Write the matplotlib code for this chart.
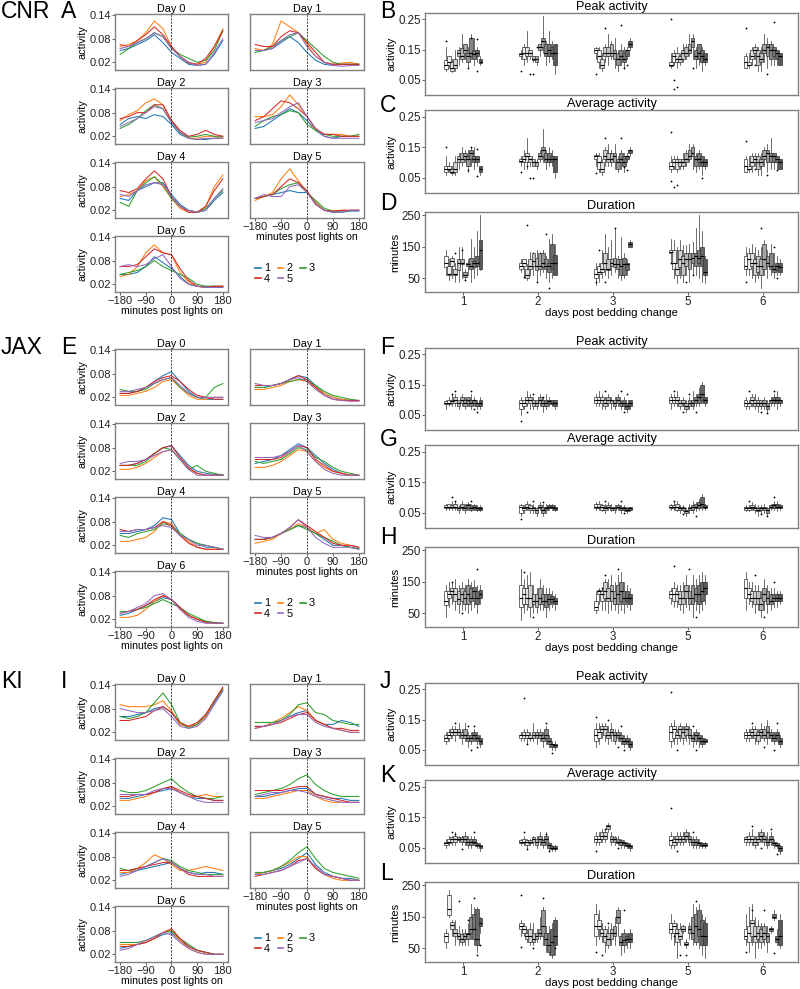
import matplotlib
matplotlib.use('Agg')
import matplotlib.pyplot as plt
from matplotlib.lines import Line2D
import numpy as np

plt.rcParams['font.family'] = ['Liberation Sans', 'DejaVu Sans']

W, H = 800, 989

# ---- activity profiles: minutes post lights on, one list per cage group (1..5)
MINUTES = [-180, -150, -120, -90, -60, -30, 0, 30, 60, 90, 120, 150, 180]
GROUPS = ['1', '2', '3', '4', '5']
GROUP_COLORS = ['#1f77b4', '#ff7f0e', '#2ca02c', '#d62728', '#9467bd']

CNR_D0 = [[.05, .055, .065, .075, .09, .07, .045, .03, .015, .012, .015, .04, .075],
          [.06, .065, .075, .095, .125, .105, .06, .035, .02, .015, .02, .06, .105],
          [.04, .055, .07, .08, .095, .085, .055, .04, .03, .02, .025, .05, .10],
          [.065, .06, .075, .09, .11, .09, .06, .035, .018, .015, .03, .06, .10],
          [.055, .06, .07, .08, .095, .085, .055, .035, .02, .012, .015, .045, .08]]
CNR_D1 = [[.05, .05, .055, .07, .085, .07, .045, .025, .015, .012, .015, .015, .015],
          [.055, .05, .065, .125, .11, .095, .065, .035, .02, .015, .018, .02, .015],
          [.045, .05, .06, .075, .085, .095, .075, .055, .035, .02, .015, .015, .015],
          [.065, .06, .06, .085, .10, .095, .07, .045, .02, .015, .015, .015, .015],
          [.05, .05, .055, .075, .09, .095, .06, .035, .02, .012, .01, .012, .012]]
CNR_D2 = [[.05, .065, .07, .065, .075, .07, .05, .025, .015, .012, .012, .015, .015],
          [.06, .075, .085, .105, .115, .10, .06, .03, .015, .015, .02, .02, .015],
          [.04, .05, .065, .085, .10, .09, .055, .03, .018, .02, .025, .02, .02],
          [.065, .07, .08, .08, .10, .10, .06, .035, .02, .025, .035, .025, .02],
          [.045, .055, .065, .08, .095, .09, .055, .03, .015, .012, .015, .015, .015]]
CNR_D3 = [[.04, .045, .06, .075, .09, .08, .06, .035, .02, .015, .02, .02, .02],
          [.07, .07, .075, .095, .125, .10, .07, .035, .025, .025, .025, .02, .02],
          [.045, .06, .07, .075, .085, .08, .05, .035, .025, .02, .02, .02, .025],
          [.06, .07, .09, .11, .105, .09, .07, .04, .025, .025, .02, .02, .02],
          [.055, .06, .065, .08, .095, .105, .07, .04, .02, .015, .015, .015, .015]]
CNR_D4 = [[.05, .045, .07, .08, .09, .09, .06, .035, .02, .015, .02, .045, .065],
          [.055, .06, .07, .095, .105, .08, .05, .025, .015, .015, .03, .08, .11],
          [.04, .03, .07, .09, .105, .085, .05, .03, .02, .015, .025, .05, .07],
          [.07, .065, .075, .10, .12, .10, .055, .03, .015, .015, .03, .07, .10],
          [.06, .055, .07, .085, .09, .085, .055, .03, .02, .015, .02, .05, .075]]
CNR_D5 = [[.05, .055, .06, .065, .07, .065, .065, .04, .02, .015, .015, .018, .018],
          [.045, .055, .065, .10, .125, .095, .065, .04, .02, .018, .02, .02, .02],
          [.05, .055, .06, .075, .085, .09, .065, .045, .025, .018, .018, .02, .02],
          [.05, .055, .06, .08, .10, .09, .07, .035, .02, .018, .02, .02, .02],
          [.05, .06, .055, .055, .08, .085, .065, .035, .02, .015, .015, .02, .02]]
CNR_D6 = [[.045, .045, .05, .065, .09, .075, .06, .04, .02, .015, .015, .015, .015],
          [.04, .045, .065, .10, .12, .10, .095, .05, .025, .015, .012, .015, .015],
          [.045, .05, .055, .065, .08, .065, .055, .045, .035, .02, .015, .015, .012],
          [.065, .065, .07, .09, .11, .10, .095, .06, .03, .015, .012, .015, .015],
          [.065, .07, .065, .07, .085, .095, .065, .035, .02, .015, .012, .012, .012]]

JAX_D0 = [[.03, .03, .035, .045, .06, .075, .085, .06, .035, .02, .015, .015, .015],
          [.025, .025, .03, .035, .045, .06, .065, .045, .025, .015, .015, .02, .02],
          [.04, .035, .035, .04, .055, .065, .07, .045, .03, .02, .02, .045, .055],
          [.03, .03, .035, .045, .06, .07, .075, .06, .04, .025, .02, .015, .015],
          [.035, .035, .04, .045, .055, .065, .07, .05, .03, .02, .02, .02, .02]]
JAX_D1 = [[.045, .045, .05, .055, .065, .075, .07, .05, .03, .02, .015, .012, .012],
          [.04, .04, .045, .05, .06, .065, .06, .045, .03, .02, .015, .012, .012],
          [.045, .045, .05, .055, .06, .065, .065, .05, .035, .025, .02, .015, .012],
          [.05, .05, .05, .055, .065, .075, .065, .045, .025, .015, .012, .012, .012],
          [.055, .05, .05, .055, .065, .07, .06, .04, .025, .015, .012, .01, .01]]
JAX_D2 = [[.035, .035, .04, .05, .065, .08, .085, .06, .035, .02, .015, .012, .012],
          [.025, .025, .03, .04, .055, .07, .075, .05, .025, .015, .01, .01, .01],
          [.035, .035, .035, .045, .065, .08, .075, .05, .025, .035, .02, .015, .01],
          [.035, .035, .04, .05, .065, .08, .085, .055, .03, .015, .01, .01, .01],
          [.04, .045, .045, .05, .06, .07, .075, .05, .025, .01, .01, .01, .01]]
JAX_D3 = [[.04, .045, .05, .06, .075, .09, .08, .06, .04, .025, .015, .01, .01],
          [.03, .03, .035, .045, .06, .075, .07, .045, .03, .02, .015, .01, .01],
          [.045, .04, .045, .05, .065, .08, .075, .055, .045, .03, .02, .015, .01],
          [.05, .05, .05, .055, .07, .085, .08, .05, .035, .02, .015, .01, .01],
          [.055, .055, .055, .06, .07, .085, .07, .045, .025, .015, .01, .01, .01]]
JAX_D4 = [[.05, .05, .055, .06, .07, .09, .085, .05, .035, .025, .015, .015, .01],
          [.03, .03, .035, .04, .055, .08, .075, .045, .03, .015, .01, .01, .01],
          [.045, .04, .05, .055, .06, .075, .07, .05, .035, .025, .02, .015, .01],
          [.06, .055, .06, .06, .065, .08, .07, .045, .025, .015, .01, .01, .01],
          [.055, .055, .06, .06, .065, .07, .065, .045, .035, .02, .02, .015, .01]]
JAX_D5 = [[.035, .035, .04, .05, .06, .07, .065, .05, .035, .02, .02, .015, .012],
          [.025, .03, .035, .05, .06, .075, .065, .05, .06, .035, .025, .02, .015],
          [.035, .035, .04, .05, .06, .07, .06, .05, .04, .03, .02, .015, .01],
          [.035, .035, .04, .05, .065, .085, .07, .055, .04, .025, .02, .02, .015],
          [.045, .04, .04, .05, .065, .085, .065, .04, .025, .015, .015, .015, .01]]
JAX_D6 = [[.03, .035, .045, .055, .065, .075, .07, .05, .03, .02, .015, .01, .01],
          [.025, .025, .03, .045, .065, .08, .07, .045, .03, .02, .015, .01, .01],
          [.04, .04, .045, .05, .06, .07, .06, .05, .035, .025, .015, .012, .01],
          [.035, .04, .045, .055, .07, .08, .07, .05, .03, .02, .012, .01, .01],
          [.035, .04, .05, .06, .08, .085, .07, .045, .025, .015, .01, .01, .01]]

KI_D0 = [[.06, .06, .065, .07, .08, .085, .07, .04, .035, .04, .06, .095, .125],
         [.09, .085, .085, .085, .09, .10, .075, .04, .035, .04, .06, .10, .13],
         [.06, .055, .06, .07, .095, .12, .09, .045, .03, .04, .065, .10, .13],
         [.05, .05, .055, .06, .075, .085, .07, .045, .035, .045, .065, .10, .135],
         [.08, .075, .07, .07, .075, .08, .06, .035, .03, .035, .055, .09, .125]]
KI_D1 = [[.035, .035, .04, .05, .06, .07, .075, .05, .04, .04, .05, .045, .035],
         [.03, .035, .045, .055, .07, .085, .075, .05, .04, .03, .025, .02, .02],
         [.045, .045, .045, .05, .065, .09, .095, .07, .065, .05, .045, .04, .04],
         [.035, .035, .04, .045, .055, .065, .07, .05, .04, .03, .03, .025, .025],
         [.03, .035, .04, .05, .06, .065, .065, .045, .035, .03, .025, .02, .02]]
KI_D2 = [[.04, .04, .045, .05, .055, .06, .065, .055, .045, .04, .04, .035, .035],
         [.035, .035, .04, .045, .055, .065, .07, .055, .045, .045, .05, .045, .045],
         [.06, .055, .055, .06, .07, .08, .09, .07, .055, .045, .04, .04, .045],
         [.045, .045, .05, .05, .055, .065, .07, .06, .05, .045, .04, .035, .035],
         [.05, .05, .05, .05, .06, .065, .065, .055, .045, .035, .03, .03, .03]]
KI_D3 = [[.045, .045, .05, .055, .06, .065, .065, .05, .045, .04, .04, .035, .035],
         [.04, .04, .045, .05, .055, .06, .06, .045, .035, .03, .03, .03, .03],
         [.05, .055, .06, .065, .075, .09, .10, .075, .06, .05, .045, .045, .045],
         [.06, .06, .06, .06, .065, .07, .07, .05, .045, .04, .035, .03, .03],
         [.045, .05, .055, .055, .06, .06, .055, .045, .04, .035, .03, .03, .03]]
KI_D4 = [[.035, .04, .045, .05, .055, .06, .065, .05, .04, .035, .04, .04, .035],
         [.04, .04, .05, .065, .085, .075, .06, .045, .045, .05, .055, .05, .045],
         [.05, .045, .05, .055, .065, .075, .07, .055, .045, .04, .035, .035, .035],
         [.045, .045, .05, .055, .06, .065, .065, .05, .035, .03, .03, .03, .03],
         [.03, .035, .045, .055, .065, .075, .065, .05, .04, .035, .035, .03, .03]]
KI_D5 = [[.035, .04, .045, .05, .06, .075, .09, .06, .04, .03, .025, .025, .02],
         [.035, .04, .045, .055, .065, .08, .08, .05, .035, .025, .02, .02, .02],
         [.04, .04, .045, .055, .07, .09, .105, .075, .05, .04, .035, .03, .025],
         [.03, .035, .04, .045, .055, .07, .075, .05, .035, .03, .025, .02, .02],
         [.035, .035, .04, .045, .055, .065, .075, .055, .035, .03, .025, .02, .02]]
KI_D6 = [[.035, .04, .045, .05, .06, .07, .075, .055, .04, .03, .025, .02, .02],
         [.045, .045, .045, .05, .06, .075, .08, .055, .035, .025, .02, .02, .02],
         [.05, .05, .05, .055, .065, .075, .08, .06, .045, .03, .025, .02, .02],
         [.04, .04, .045, .05, .06, .075, .085, .06, .04, .03, .025, .02, .02],
         [.03, .035, .045, .055, .065, .075, .07, .05, .035, .025, .02, .02, .02]]

# ---- box summaries per day (1,2,3,5,6): 12 boxes of (low, q1, median, q3, high)
DAY_LABELS = ['1', '2', '3', '5', '6']

CNR_PEAK = [
    [(.08, .085, .10, .115, .16), (.09, .10, .11, .13, .13), (.075, .08, .09, .11, .12), (.08, .09, .10, .12, .15),
     (.10, .13, .14, .15, .16), (.11, .12, .13, .155, .20), (.12, .14, .15, .17, .17), (.09, .11, .13, .14, .16),
     (.12, .13, .14, .19, .20), (.10, .12, .135, .15, .19), (.11, .13, .14, .15, .16), (.10, .105, .11, .12, .13)],
    [(.12, .13, .135, .14, .15), (.10, .12, .14, .16, .17), (.11, .13, .14, .16, .21), (.12, .13, .14, .15, .15),
     (.11, .115, .12, .13, .13), (.10, .11, .12, .13, .13), (.13, .15, .16, .17, .17), (.14, .16, .18, .19, .26),
     (.10, .13, .14, .17, .18), (.11, .13, .15, .17, .21), (.12, .13, .14, .16, .18), (.07, .10, .14, .17, .17)],
    [(.12, .14, .15, .155, .16), (.09, .11, .13, .15, .16), (.08, .09, .10, .12, .14), (.11, .13, .14, .16, .17),
     (.10, .13, .14, .16, .20), (.12, .13, .14, .17, .18), (.09, .12, .14, .15, .19), (.08, .10, .12, .14, .15),
     (.10, .12, .13, .15, .17), (.09, .11, .12, .14, .16), (.12, .13, .15, .15, .16), (.15, .16, .17, .18, .19)],
    [(.09, .095, .10, .11, .14), (.10, .11, .13, .14, .15), (.09, .11, .12, .14, .16), (.10, .11, .12, .13, .14),
     (.11, .12, .14, .15, .17), (.12, .13, .14, .16, .17), (.13, .14, .15, .17, .20), (.12, .16, .18, .19, .20),
     (.09, .12, .13, .15, .16), (.10, .12, .14, .17, .17), (.08, .11, .13, .15, .16), (.10, .11, .12, .14, .14)],
    [(.09, .09, .11, .13, .14), (.09, .10, .10, .11, .14), (.10, .12, .13, .15, .16), (.12, .14, .15, .16, .17),
     (.08, .10, .13, .15, .16), (.08, .11, .12, .14, .16), (.11, .14, .15, .17, .20), (.09, .13, .16, .17, .19),
     (.10, .12, .15, .17, .18), (.10, .13, .15, .16, .16), (.10, .12, .14, .15, .15), (.10, .10, .13, .14, .14)]]
CNR_PEAK_OUT = [[(1, .18), (9, .19), (11, .185), (11, .08), (8, .09)],
                [(1, .08), (4, .07), (5, .07), (6, .16)],
                [(1, .07), (4, .22), (9, .23), (10, .09), (11, .10)],
                [(1, .25), (2, .05), (2, .02), (3, .025), (8, .09)],
                [(1, .22), (4, .10), (8, .07), (10, .24)]]

CNR_AVG = [
    [(.06, .07, .08, .09, .12), (.07, .075, .08, .09, .10), (.06, .065, .07, .08, .09), (.06, .07, .08, .10, .12),
     (.08, .10, .11, .12, .13), (.09, .10, .11, .13, .15), (.10, .11, .12, .13, .14), (.07, .09, .11, .12, .14),
     (.09, .11, .13, .14, .15), (.08, .10, .11, .12, .15), (.09, .10, .11, .12, .12), (.06, .07, .08, .09, .09)],
    [(.09, .10, .105, .11, .12), (.08, .10, .11, .12, .14), (.08, .10, .12, .13, .18), (.09, .10, .11, .12, .12),
     (.09, .09, .10, .11, .11), (.08, .09, .10, .10, .11), (.10, .11, .12, .13, .14), (.10, .12, .14, .15, .21),
     (.08, .10, .11, .13, .14), (.09, .10, .11, .13, .15), (.09, .10, .11, .12, .14), (.05, .07, .11, .12, .12)],
    [(.09, .11, .12, .125, .13), (.07, .08, .10, .12, .13), (.06, .07, .08, .10, .11), (.09, .11, .12, .14, .15),
     (.09, .10, .11, .13, .16), (.09, .10, .11, .13, .14), (.08, .10, .12, .13, .16), (.07, .08, .10, .11, .12),
     (.08, .10, .11, .13, .14), (.07, .09, .10, .12, .13), (.10, .11, .12, .12, .13), (.12, .13, .14, .14, .15)],
    [(.07, .08, .09, .10, .12), (.08, .09, .10, .11, .12), (.07, .08, .10, .11, .12), (.08, .09, .10, .11, .11),
     (.08, .09, .10, .11, .13), (.09, .10, .11, .13, .14), (.10, .11, .12, .14, .16), (.08, .12, .13, .15, .16),
     (.07, .09, .11, .12, .13), (.08, .10, .11, .13, .14), (.06, .09, .10, .12, .12), (.08, .09, .10, .11, .11)],
    [(.07, .07, .09, .11, .12), (.07, .08, .08, .09, .12), (.07, .09, .10, .12, .13), (.09, .10, .11, .12, .13),
     (.06, .08, .10, .12, .13), (.06, .09, .10, .11, .13), (.09, .11, .12, .14, .15), (.07, .10, .13, .14, .16),
     (.08, .10, .12, .13, .18), (.08, .10, .12, .13, .13), (.08, .10, .11, .12, .12), (.08, .08, .10, .11, .11)]]
CNR_AVG_OUT = [[(1, .15), (9, .15), (11, .145), (11, .055), (8, .075)],
               [(1, .07), (4, .05), (5, .05), (3, .09)],
               [(1, .065), (4, .18), (9, .18), (10, .085), (11, .075)],
               [(1, .20), (1, .04), (2, .02), (3, .025), (11, .05)],
               [(1, .17), (4, .08), (8, .06), (11, .075)]]

CNR_DUR = [
    [(60, 85, 100, 120, 140), (45, 60, 65, 90, 110), (50, 90, 105, 115, 120), (40, 60, 65, 80, 100),
     (40, 75, 100, 110, 150), (50, 95, 100, 110, 150), (45, 55, 60, 70, 80), (60, 90, 95, 100, 110),
     (40, 80, 90, 115, 175), (50, 85, 100, 105, 150), (60, 90, 100, 120, 200), (75, 80, 140, 170, 250)],
    [(70, 80, 90, 100, 110), (55, 90, 100, 110, 110), (45, 50, 60, 80, 95), (60, 80, 90, 110, 135),
     (60, 90, 105, 130, 135), (40, 75, 90, 115, 140), (60, 80, 90, 130, 135), (70, 85, 100, 130, 140),
     (50, 80, 90, 110, 120), (40, 70, 90, 100, 175), (50, 80, 100, 160, 190), (60, 60, 100, 125, 160)],
    [(30, 50, 65, 80, 100), (40, 65, 70, 90, 100), (50, 70, 80, 100, 140), (60, 80, 100, 130, 190),
     (50, 75, 80, 110, 150), (60, 90, 100, 110, 170), (70, 85, 95, 115, 210), (50, 80, 95, 110, 120),
     (45, 60, 90, 110, 180), (50, 60, 95, 115, 130), (60, 75, 95, 100, 110), (150, 150, 160, 165, 170)],
    [(100, 130, 135, 140, 175), (50, 80, 100, 140, 170), (35, 60, 80, 100, 150), (50, 85, 110, 140, 170),
     (40, 60, 100, 120, 155), (60, 90, 110, 130, 155), (40, 80, 110, 130, 160), (60, 100, 115, 130, 165),
     (60, 90, 120, 130, 210), (50, 100, 115, 140, 250), (40, 90, 120, 150, 200), (35, 60, 70, 110, 120)],
    [(60, 80, 90, 120, 150), (60, 80, 110, 130, 145), (50, 90, 100, 130, 160), (40, 60, 100, 110, 150),
     (50, 70, 90, 120, 140), (20, 60, 90, 110, 150), (60, 80, 110, 160, 170), (50, 90, 100, 120, 140),
     (60, 80, 90, 130, 160), (50, 70, 80, 90, 130), (60, 75, 90, 100, 120), (60, 70, 85, 100, 110)]]
CNR_DUR_OUT = [[(4, 130), (6, 140), (7, 45)],
               [(3, 220), (6, 40), (9, 190), (10, 20), (2, 55)],
               [(1, 40), (2, 140), (4, 40), (7, 210)],
               [(1, 100), (6, 40), (8, 60)],
               [(1, 40), (6, 210), (10, 150), (11, 50)]]

JAX_PEAK = [
    [(.07, .085, .09, .095, .10), (.08, .085, .09, .10, .11), (.08, .09, .095, .10, .12), (.08, .09, .10, .11, .12),
     (.07, .08, .09, .10, .10), (.08, .09, .10, .11, .12), (.07, .08, .09, .10, .11), (.08, .09, .10, .11, .11),
     (.07, .08, .09, .10, .12), (.08, .09, .10, .10, .11), (.07, .08, .09, .09, .10), (.07, .08, .09, .10, .11)],
    [(.05, .07, .09, .10, .11), (.07, .08, .09, .10, .10), (.08, .09, .10, .11, .13), (.07, .09, .10, .11, .12),
     (.07, .08, .09, .10, .11), (.07, .08, .09, .10, .10), (.08, .09, .10, .11, .12), (.06, .08, .09, .10, .11),
     (.07, .08, .09, .10, .12), (.08, .09, .095, .10, .11), (.08, .085, .09, .10, .10), (.07, .08, .09, .10, .10)],
    [(.08, .09, .10, .11, .12), (.08, .09, .10, .11, .13), (.07, .09, .10, .11, .12), (.07, .08, .09, .10, .11),
     (.08, .09, .10, .11, .12), (.07, .09, .10, .10, .11), (.07, .08, .09, .10, .11), (.08, .09, .10, .11, .12),
     (.07, .08, .09, .09, .10), (.07, .08, .09, .10, .11), (.06, .07, .08, .09, .09), (.07, .08, .09, .10, .10)],
    [(.07, .09, .10, .11, .12), (.08, .09, .10, .11, .12), (.08, .09, .10, .11, .13), (.07, .08, .09, .10, .10),
     (.08, .09, .09, .10, .11), (.06, .07, .08, .09, .10), (.07, .08, .09, .10, .11), (.07, .08, .09, .10, .13),
     (.08, .09, .10, .11, .12), (.08, .09, .11, .12, .14), (.09, .10, .12, .15, .16), (.08, .09, .10, .11, .11)],
    [(.07, .08, .09, .10, .11), (.07, .08, .09, .09, .10), (.08, .09, .10, .11, .12), (.07, .08, .09, .10, .12),
     (.06, .08, .09, .10, .11), (.07, .08, .09, .10, .10), (.07, .08, .09, .10, .11), (.06, .07, .08, .09, .10),
     (.08, .09, .10, .10, .11), (.08, .09, .10, .11, .12), (.07, .09, .10, .11, .13), (.08, .09, .10, .10, .11)]]
JAX_PEAK_OUT = [[(3, .12), (4, .13), (9, .13), (10, .07), (11, .06)],
                [(1, .03), (3, .06), (5, .12), (8, .11)],
                [(4, .13), (9, .13), (10, .06), (11, .12)],
                [(2, .13), (5, .06), (7, .12), (9, .06)],
                [(2, .13), (6, .06), (8, .055), (10, .13)]]

JAX_AVG = [
    [(.06, .065, .07, .075, .08), (.06, .065, .07, .08, .08), (.06, .065, .07, .075, .09), (.06, .065, .07, .08, .09),
     (.05, .06, .065, .07, .075), (.06, .065, .07, .08, .09), (.05, .06, .065, .07, .08), (.06, .07, .075, .08, .085),
     (.055, .06, .065, .07, .08), (.06, .065, .07, .075, .08), (.055, .06, .065, .07, .075), (.055, .06, .065, .07, .075)],
    [(.04, .05, .07, .075, .08), (.05, .06, .065, .07, .075), (.06, .065, .07, .08, .09), (.05, .06, .065, .075, .08),
     (.05, .06, .065, .07, .08), (.04, .05, .06, .065, .07), (.06, .065, .07, .075, .085), (.04, .05, .06, .07, .08),
     (.05, .06, .065, .07, .08), (.06, .065, .07, .075, .08), (.06, .065, .07, .075, .08), (.055, .06, .065, .07, .075)],
    [(.06, .065, .07, .08, .085), (.06, .065, .07, .08, .09), (.055, .06, .07, .075, .08), (.05, .06, .065, .07, .08),
     (.06, .065, .07, .075, .085), (.055, .06, .065, .07, .08), (.05, .06, .065, .07, .075), (.06, .065, .07, .075, .08),
     (.05, .06, .065, .07, .075), (.055, .06, .065, .07, .075), (.05, .055, .06, .065, .07), (.055, .06, .065, .07, .07)],
    [(.06, .065, .07, .075, .08), (.06, .065, .07, .075, .085), (.055, .06, .07, .08, .09), (.05, .06, .065, .07, .075),
     (.055, .06, .065, .07, .075), (.04, .05, .055, .06, .065), (.05, .06, .065, .07, .08), (.05, .06, .07, .075, .09),
     (.055, .065, .07, .08, .085), (.06, .065, .075, .085, .095), (.06, .07, .08, .10, .11), (.06, .065, .07, .075, .08)],
    [(.055, .06, .065, .07, .075), (.055, .06, .065, .07, .075), (.06, .065, .07, .075, .085), (.05, .06, .065, .07, .08),
     (.04, .055, .06, .065, .075), (.05, .06, .065, .07, .075), (.05, .06, .065, .07, .08), (.04, .05, .06, .065, .07),
     (.06, .065, .07, .075, .08), (.06, .065, .075, .08, .09), (.055, .065, .07, .08, .09), (.06, .065, .07, .075, .08)]]
JAX_AVG_OUT = [[(3, .10), (4, .09), (9, .09)],
               [(1, .03), (5, .09), (8, .085)],
               [(4, .09), (9, .09), (10, .05)],
               [(2, .09), (5, .045), (9, .04)],
               [(2, .09), (6, .045), (8, .04), (10, .10)]]

JAX_DUR = [
    [(40, 75, 90, 120, 140), (70, 100, 110, 120, 150), (80, 110, 120, 130, 150), (60, 90, 110, 130, 160),
     (50, 80, 95, 120, 140), (60, 90, 110, 130, 150), (60, 80, 100, 120, 140), (50, 80, 110, 140, 160),
     (60, 90, 100, 130, 150), (70, 100, 120, 135, 155), (50, 80, 100, 120, 140), (80, 100, 110, 125, 140)],
    [(30, 70, 100, 140, 190), (50, 80, 110, 130, 160), (60, 80, 100, 130, 170), (40, 70, 100, 140, 180),
     (50, 80, 90, 110, 140), (50, 70, 90, 110, 130), (60, 80, 100, 130, 160), (60, 80, 90, 110, 140),
     (40, 70, 90, 110, 130), (60, 80, 95, 110, 130), (70, 85, 95, 105, 120), (60, 80, 90, 100, 110)],
    [(50, 60, 70, 90, 120), (80, 110, 120, 125, 130), (60, 90, 110, 120, 130), (60, 100, 120, 150, 160),
     (50, 90, 100, 130, 160), (60, 90, 120, 140, 170), (60, 80, 100, 120, 150), (50, 80, 110, 140, 170),
     (60, 90, 120, 150, 180), (50, 80, 100, 120, 150), (70, 90, 100, 120, 140), (60, 80, 100, 110, 130)],
    [(80, 100, 110, 120, 130), (70, 90, 110, 130, 150), (70, 90, 110, 120, 140), (60, 80, 100, 120, 140),
     (50, 80, 100, 120, 150), (70, 100, 120, 140, 170), (60, 80, 100, 120, 140), (40, 80, 100, 140, 170),
     (60, 90, 110, 130, 160), (50, 80, 110, 140, 170), (60, 90, 120, 150, 180), (80, 110, 130, 150, 170)],
    [(60, 100, 130, 160, 180), (80, 100, 110, 130, 150), (70, 90, 100, 120, 150), (50, 80, 100, 120, 140),
     (60, 80, 100, 120, 140), (40, 60, 80, 100, 120), (60, 90, 110, 130, 160), (50, 80, 100, 120, 140),
     (60, 80, 90, 110, 130), (70, 90, 100, 110, 130), (70, 90, 100, 110, 120), (80, 90, 100, 110, 120)]]
JAX_DUR_OUT = [[(3, 150), (6, 50), (11, 190)],
               [(2, 180), (5, 40)],
               [(3, 130), (4, 170), (8, 190)],
               [(2, 200), (7, 190), (9, 40)],
               [(4, 170), (7, 40), (10, 150)]]

KI_PEAK = [
    [(.07, .08, .09, .10, .11), (.08, .09, .10, .11, .12), (.09, .10, .11, .12, .13), (.08, .10, .11, .12, .13),
     (.09, .10, .11, .12, .14), (.07, .09, .10, .11, .12), (.08, .09, .10, .12, .14), (.06, .08, .09, .10, .11),
     (.07, .08, .09, .10, .11), (.08, .09, .10, .11, .12), (.07, .08, .09, .10, .11), (.06, .07, .08, .09, .10)],
    [(.08, .09, .10, .10, .11), (.08, .09, .10, .11, .12), (.07, .09, .10, .11, .12), (.08, .09, .09, .10, .11),
     (.08, .09, .10, .11, .14), (.07, .09, .10, .11, .12), (.08, .09, .10, .11, .12), (.06, .08, .09, .10, .11),
     (.07, .09, .10, .12, .13), (.06, .07, .08, .09, .10), (.05, .06, .07, .07, .08), (.05, .06, .065, .07, .08)],
    [(.06, .08, .10, .12, .14), (.07, .09, .11, .12, .14), (.09, .11, .12, .13, .14), (.08, .10, .12, .13, .14),
     (.07, .09, .10, .11, .13), (.08, .10, .11, .12, .14), (.07, .08, .10, .11, .12), (.08, .09, .10, .11, .12),
     (.07, .08, .09, .10, .11), (.06, .07, .08, .09, .10), (.07, .08, .08, .09, .10), (.05, .06, .07, .08, .09)],
    [(.06, .08, .11, .13, .14), (.07, .09, .12, .13, .15), (.07, .09, .10, .11, .12), (.08, .10, .12, .13, .14),
     (.07, .09, .11, .12, .13), (.08, .10, .12, .13, .14), (.07, .09, .10, .12, .13), (.06, .08, .09, .10, .11),
     (.07, .08, .10, .11, .12), (.06, .08, .09, .10, .11), (.06, .07, .08, .09, .10), (.07, .075, .08, .085, .09)],
    [(.08, .09, .10, .11, .12), (.08, .09, .10, .11, .12), (.09, .10, .11, .12, .13), (.07, .09, .10, .12, .13),
     (.07, .08, .10, .11, .12), (.09, .10, .11, .12, .14), (.08, .09, .10, .12, .13), (.07, .09, .11, .13, .15),
     (.08, .09, .10, .11, .12), (.07, .08, .09, .10, .11), (.08, .09, .10, .11, .12), (.06, .07, .08, .09, .10)]]
KI_PEAK_OUT = [[(4, .14), (8, .13), (9, .05), (10, .13), (11, .06)],
               [(2, .22), (3, .07), (9, .14), (11, .04)],
               [(1, .16), (5, .15), (8, .06), (9, .13), (10, .05)],
               [(1, .24), (3, .05), (8, .13), (9, .05)],
               [(3, .14), (7, .06), (10, .05), (11, .14)]]

KI_AVG = [
    [(.05, .06, .065, .07, .08), (.06, .065, .07, .08, .09), (.06, .07, .08, .085, .09), (.06, .07, .08, .09, .10),
     (.07, .075, .08, .085, .09), (.06, .07, .08, .085, .09), (.06, .07, .08, .09, .10), (.05, .06, .07, .08, .09),
     (.05, .06, .07, .08, .09), (.06, .065, .07, .08, .09), (.05, .055, .06, .065, .07), (.04, .05, .055, .06, .065)],
    [(.06, .065, .07, .075, .08), (.06, .065, .07, .08, .09), (.05, .06, .07, .075, .08), (.06, .065, .07, .075, .08),
     (.06, .07, .08, .085, .09), (.05, .06, .07, .08, .09), (.06, .07, .08, .09, .10), (.05, .06, .07, .075, .08),
     (.06, .07, .08, .09, .10), (.04, .05, .06, .065, .07), (.04, .045, .05, .055, .06), (.04, .045, .05, .055, .06)],
    [(.06, .07, .08, .09, .10), (.06, .07, .08, .09, .10), (.07, .08, .09, .10, .11), (.07, .08, .09, .10, .11),
     (.10, .11, .12, .125, .13), (.06, .07, .08, .09, .10), (.06, .07, .08, .085, .09), (.06, .065, .07, .08, .09),
     (.05, .06, .07, .075, .08), (.05, .06, .065, .07, .075), (.05, .055, .06, .065, .07), (.04, .05, .055, .06, .065)],
    [(.05, .06, .075, .09, .10), (.05, .06, .07, .08, .09), (.06, .07, .08, .09, .10), (.06, .07, .08, .09, .10),
     (.06, .07, .08, .09, .10), (.07, .08, .09, .10, .11), (.06, .07, .08, .09, .10), (.05, .06, .07, .08, .09),
     (.05, .06, .07, .08, .09), (.05, .06, .065, .07, .08), (.05, .055, .06, .065, .07), (.05, .055, .06, .065, .07)],
    [(.06, .07, .08, .085, .09), (.06, .07, .08, .09, .10), (.06, .07, .08, .09, .11), (.05, .06, .07, .08, .09),
     (.06, .07, .08, .09, .10), (.07, .08, .09, .10, .11), (.06, .07, .08, .09, .10), (.05, .06, .07, .08, .10),
     (.06, .07, .08, .09, .10), (.05, .06, .065, .07, .08), (.05, .055, .06, .065, .07), (.03, .04, .05, .055, .06)]]
KI_AVG_OUT = [[(3, .10), (4, .095), (6, .045), (10, .10)],
              [(2, .10), (3, .045), (9, .095), (10, .04)],
              [(1, .04), (4, .11), (8, .05)],
              [(1, .18), (3, .04), (8, .10)],
              [(3, .12), (6, .05), (9, .11), (11, .03)]]

KI_DUR = [
    [(50, 70, 90, 100, 110), (150, 155, 175, 220, 235), (90, 110, 125, 135, 140), (60, 90, 100, 110, 140),
     (60, 80, 90, 100, 120), (60, 70, 80, 95, 110), (60, 80, 90, 100, 110), (60, 80, 95, 100, 130),
     (80, 100, 110, 150, 190), (60, 80, 110, 160, 180), (40, 60, 80, 175, 180), (100, 120, 130, 145, 150)],
    [(90, 110, 120, 130, 140), (90, 100, 110, 120, 130), (70, 80, 90, 100, 110), (60, 70, 90, 110, 130),
     (60, 70, 80, 100, 130), (70, 80, 90, 100, 110), (80, 90, 100, 110, 150), (60, 90, 120, 170, 180),
     (40, 60, 80, 100, 120), (30, 40, 60, 100, 120), (20, 30, 70, 110, 130), (30, 60, 90, 140, 150)],
    [(60, 90, 120, 160, 190), (80, 110, 120, 140, 170), (70, 90, 100, 110, 130), (40, 70, 90, 110, 120),
     (50, 60, 80, 100, 120), (60, 80, 100, 110, 130), (60, 90, 100, 120, 150), (90, 130, 150, 170, 180),
     (30, 60, 70, 90, 100), (40, 60, 75, 100, 110), (50, 70, 80, 90, 100), (50, 70, 80, 100, 110)],
    [(80, 100, 110, 130, 160), (60, 100, 120, 130, 140), (20, 70, 100, 110, 130), (60, 80, 90, 110, 130),
     (100, 105, 110, 120, 125), (50, 60, 65, 70, 80), (80, 100, 110, 120, 130), (60, 80, 100, 150, 190),
     (60, 70, 120, 160, 180), (50, 90, 110, 170, 190), (30, 60, 90, 140, 160), (20, 60, 90, 130, 150)],
    [(60, 80, 90, 110, 160), (40, 70, 100, 120, 180), (60, 90, 130, 140, 190), (20, 70, 90, 120, 150),
     (50, 80, 100, 120, 140), (50, 70, 90, 110, 130), (60, 80, 100, 120, 130), (40, 70, 90, 100, 120),
     (100, 105, 110, 115, 120), (140, 145, 150, 160, 170), (60, 70, 80, 90, 110), (50, 60, 90, 140, 160)]]
KI_DUR_OUT = [[(5, 200), (8, 140), (10, 210), (11, 30), (12, 60)],
              [(1, 220), (1, 55), (5, 50), (8, 210), (12, 50)],
              [(1, 40), (3, 30), (5, 130), (10, 170)],
              [(2, 90), (4, 30), (6, 30), (9, 200)],
              [(1, 40), (3, 170), (7, 170), (10, 35)]]

N_BOX = 12
OFFSETS = np.linspace(-0.23, 0.23, N_BOX)
FILLS = [str(g) for g in np.linspace(1.0, 0.35, N_BOX)]
FRAME = '#808080'

fig = plt.figure(figsize=(W / 100, H / 100), dpi=100)


def px_axes(x0, y0, x1, y1):
    return fig.add_axes([x0 / W, 1 - y1 / H, (x1 - x0) / W, (y1 - y0) / H])


def frame(ax, size):
    for s in ax.spines.values():
        s.set_color(FRAME)
        s.set_linewidth(1.0)
    ax.tick_params(length=2, width=0.6, color='#444444', labelsize=size, pad=1, labelcolor='#222222')


def line_panel(ax, series, day, show_y, show_x):
    frame(ax, 8)
    for vals, col in zip(series, GROUP_COLORS):
        ax.plot(MINUTES, vals, color=col, lw=0.75)
    ax.axvline(0, color='#222222', ls=(0, (2.5, 1.5)), lw=0.6)
    ax.set_xlim(-198, 198)
    ax.set_ylim(0.0005, 0.1425)
    ax.set_xticks([-180, -90, 0, 90, 180])
    ax.set_yticks([0.02, 0.08, 0.14])
    ax.set_yticklabels(['0.02', '0.08', '0.14'])
    ax.set_title('Day %d' % day, fontsize=7.8, pad=1.5)
    if show_y:
        ax.set_ylabel('activity', fontsize=7.8, labelpad=1)
    else:
        ax.tick_params(axis='y', left=False, labelleft=False)
    if show_x:
        ax.set_xlabel('minutes post lights on', fontsize=7.6, labelpad=0)
    else:
        ax.tick_params(axis='x', bottom=False, labelbottom=False)


def box_panel(ax, boxes, outliers, ylim, yticks, yticklabels, title, ylabel, show_x):
    frame(ax, 8.3)
    stats, pos = [], []
    for d, day_boxes in enumerate(boxes):
        for k, (lo, q1, med, q3, hi) in enumerate(day_boxes):
            stats.append(dict(whislo=lo, q1=q1, med=med, q3=q3, whishi=hi, fliers=[]))
            pos.append(d + 1 + OFFSETS[k])
    art = ax.bxp(stats, positions=pos, widths=0.05, patch_artist=True, showcaps=False,
                 showfliers=False, manage_ticks=False,
                 boxprops=dict(edgecolor='#333333', linewidth=0.5),
                 whiskerprops=dict(color='#333333', linewidth=0.5),
                 medianprops=dict(color='black', linewidth=0.8))
    for i, patch in enumerate(art['boxes']):
        patch.set_facecolor(FILLS[i % N_BOX])
    for d, day_out in enumerate(outliers):
        for k, v in day_out:
            ax.plot(d + 1 + OFFSETS[k - 1], v, 'o', ms=1.3, color='black', mec='none')
    ax.set_xlim(0.49, 5.47)
    ax.set_ylim(*ylim)
    ax.set_yticks(yticks)
    ax.set_yticklabels(yticklabels)
    ax.set_title(title, fontsize=9.2, pad=1.5)
    ax.set_ylabel(ylabel, fontsize=8, labelpad=1)
    ax.set_xticks(range(1, 6))
    if show_x:
        ax.set_xticklabels(DAY_LABELS)
        ax.set_xlabel('days post bedding change', fontsize=8.2, labelpad=0)
    else:
        ax.tick_params(axis='x', bottom=False, labelbottom=False)


SITES = [
    ('CNR', 'ABCD', [CNR_D0, CNR_D1, CNR_D2, CNR_D3, CNR_D4, CNR_D5, CNR_D6],
     [(CNR_PEAK, CNR_PEAK_OUT), (CNR_AVG, CNR_AVG_OUT), (CNR_DUR, CNR_DUR_OUT)]),
    ('JAX', 'EFGH', [JAX_D0, JAX_D1, JAX_D2, JAX_D3, JAX_D4, JAX_D5, JAX_D6],
     [(JAX_PEAK, JAX_PEAK_OUT), (JAX_AVG, JAX_AVG_OUT), (JAX_DUR, JAX_DUR_OUT)]),
    ('KI', 'IJKL', [KI_D0, KI_D1, KI_D2, KI_D3, KI_D4, KI_D5, KI_D6],
     [(KI_PEAK, KI_PEAK_OUT), (KI_AVG, KI_AVG_OUT), (KI_DUR, KI_DUR_OUT)]),
]

ROWS = [(14, 70), (88, 144), (162, 218), (236, 292)]
COLS = [(115, 228), (250, 364)]
BOX_ROWS = [(13, 95), (110, 193), (212, 292)]
# legend filled column by column: order so rows read 1 2 3 / 4 5
LEGEND_ORDER = [0, 3, 1, 4, 2]

for s, (site, letters, days, box_sets) in enumerate(SITES):
    off = 335 * s
    for day, series in enumerate(days):
        r, c = day // 2, day % 2
        ax = px_axes(COLS[c][0], ROWS[r][0] + off, COLS[c][1], ROWS[r][1] + off)
        line_panel(ax, series, day, show_y=(c == 0), show_x=(day == 5 or day == 6))

    specs = [((0.0, 0.271), [0.05, 0.15, 0.25], ['0.05', '0.15', '0.25'], 'Peak activity', 'activity'),
             ((0.0, 0.272), [0.05, 0.15, 0.25], ['0.05', '0.15', '0.25'], 'Average activity', 'activity'),
             ((7, 260), [50, 150, 250], ['50', '150', '250'], 'Duration', 'minutes')]
    for i, ((boxes, outl), (ylim, yt, ytl, title, ylab)) in enumerate(zip(box_sets, specs)):
        ax = px_axes(425, BOX_ROWS[i][0] + off, 798, BOX_ROWS[i][1] + off)
        box_panel(ax, boxes, outl, ylim, yt, ytl, title, ylab, show_x=(i == 2))

    fig.text(1 / W, 1 - (12 + off) / H, site, fontsize=16.5, va='center', ha='left')
    fig.text(61 / W, 1 - (12 + off) / H, letters[0], fontsize=16.5, va='center', ha='left')
    for i, ly in enumerate([12, 105, 203]):
        fig.text(380 / W, 1 - (ly + off) / H, letters[i + 1], fontsize=16.5, va='center', ha='left')

    handles = [Line2D([], [], color=col, lw=1.2) for col in GROUP_COLORS]
    fig.legend([handles[i] for i in LEGEND_ORDER], [GROUPS[i] for i in LEGEND_ORDER],
               loc='upper left', ncol=3, frameon=False, fontsize=7.8,
               bbox_to_anchor=(250 / W, 1 - (258 + off) / H), handlelength=0.5,
               handletextpad=0.3, columnspacing=0.7, labelspacing=0.05, borderpad=0)

fig.savefig('out.png', dpi=100)
